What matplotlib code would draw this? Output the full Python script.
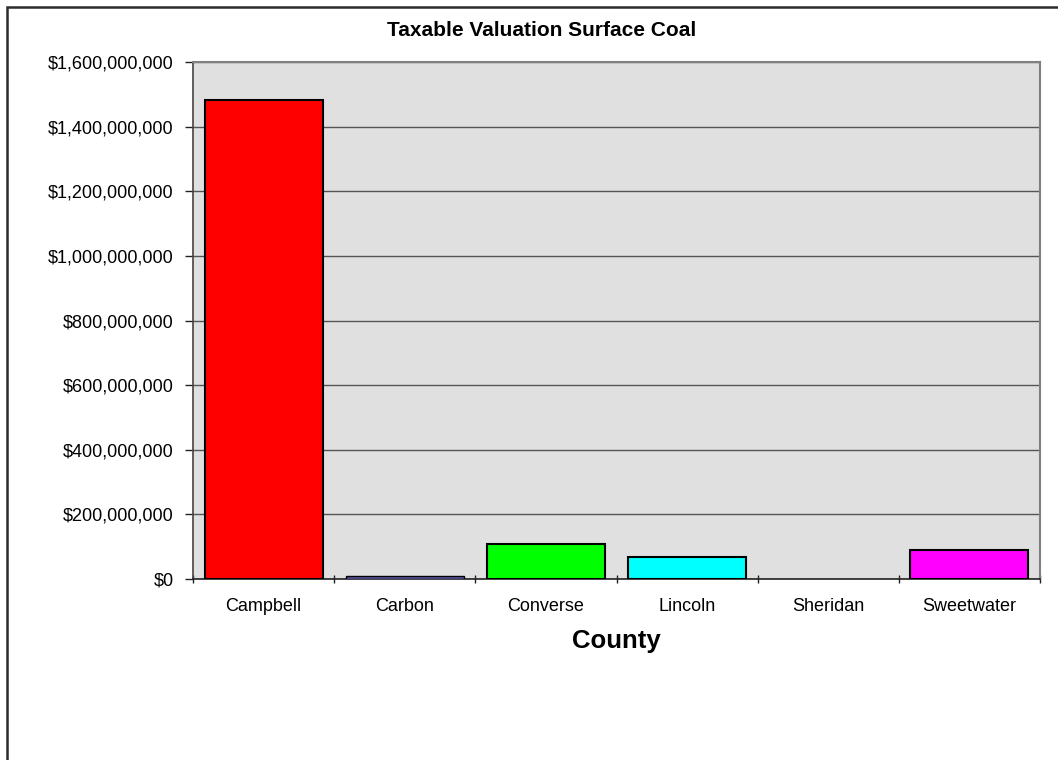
import matplotlib
matplotlib.use("Agg")
import matplotlib.pyplot as plt
from matplotlib.patches import Rectangle
from matplotlib.ticker import FuncFormatter, FixedLocator

plt.rcParams['font.family'] = ['Liberation Sans', 'DejaVu Sans']

counties = ["Campbell", "Carbon", "Converse", "Lincoln", "Sheridan", "Sweetwater"]
values = [1482e6, 9e6, 107e6, 68e6, 0, 91e6]
colors = ["#FF0000", "#5555A8", "#00FF00", "#00FFFF", "#FFFF00", "#FF00FF"]
yticks = [0, 200e6, 400e6, 600e6, 800e6, 1000e6, 1200e6, 1400e6, 1600e6]

W, H = 1058, 760
fig = plt.figure(figsize=(W/100, H/100), dpi=100)
fig.patch.set_facecolor("white")
fig.patches.append(Rectangle((7/W, -0.1), 1.2, 1 - 7/H + 0.1, transform=fig.transFigure,
                             fill=False, edgecolor="#2b2b2b", linewidth=1.8, zorder=0))

ax = fig.add_axes([193/W, 1 - 579/H, (1040-193)/W, (579-62)/H])
ax.set_facecolor("#E0E0E0")
x = list(range(len(counties)))
lws = [0 if v == 0 else (1.0 if v < 20e6 else 1.5) for v in values]
ax.bar(x, values, width=0.835, color=colors, edgecolor="black", linewidth=lws, zorder=3)
ax.set_xlim(-0.5, len(counties) - 0.5)
ax.set_ylim(0, 1.6e9)
ax.set_yticks(yticks)
ax.yaxis.set_major_formatter(FuncFormatter(lambda v, p: "${:,.0f}".format(v)))
ax.grid(axis="y", color="#555555", linewidth=1.0, zorder=1)
ax.set_axisbelow(True)

ax.set_xticks(x)
ax.set_xticklabels(counties)
ax.tick_params(axis="x", which="major", length=0, pad=14, labelsize=13)
ax.xaxis.set_minor_locator(FixedLocator([i + 0.5 for i in range(-1, len(counties))]))
ax.tick_params(axis="x", which="minor", length=6, direction="inout", width=1, color="#222222")
ax.tick_params(axis="y", length=6, direction="out", width=1, color="#222222", labelsize=13, pad=8)

for s in ["top", "right"]:
    ax.spines[s].set_color("#808080")
    ax.spines[s].set_linewidth(1.5)
ax.spines["left"].set_color("#444444")
ax.spines["bottom"].set_color("#222222")
ax.spines["left"].set_linewidth(1.2)
ax.spines["bottom"].set_linewidth(1.2)

fig.text(542/W, 1 - 30/H, "Taxable Valuation Surface Coal", ha="center", va="center",
         fontsize=15, fontweight="bold")
ax.set_xlabel("County", fontsize=18.5, fontweight="bold", labelpad=10)

fig.savefig("out.png", dpi=100)
